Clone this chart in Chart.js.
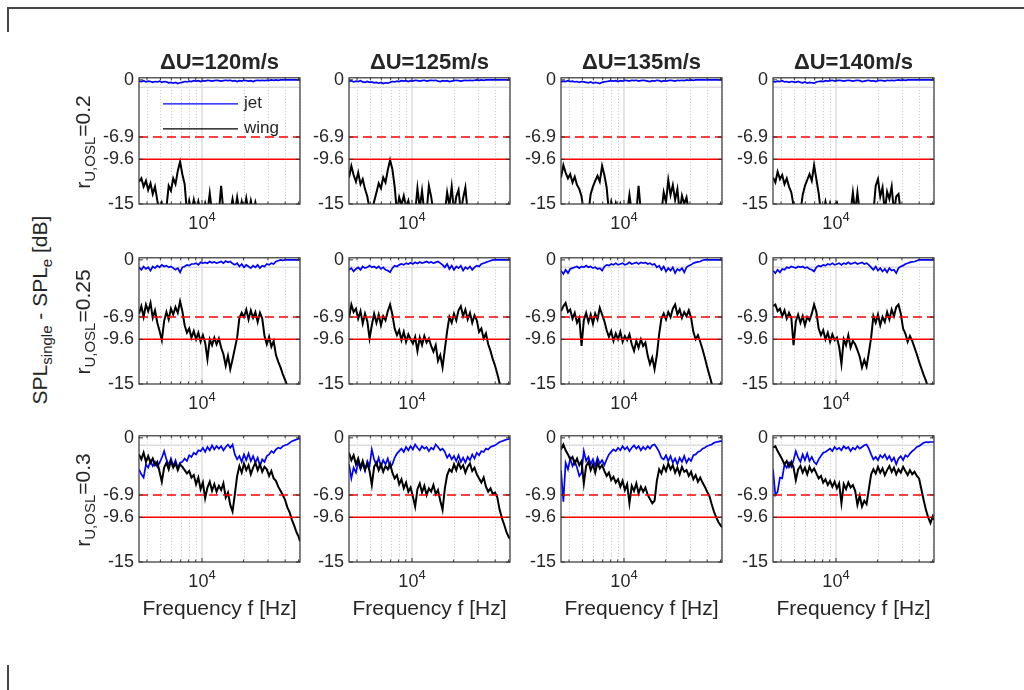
<!DOCTYPE html>
<html>
<head>
<meta charset="utf-8">
<script src="https://cdn.jsdelivr.net/npm/chart.js"></script>
<style>
  body { margin: 0; background: #fff; }
  #fig { position: relative; width: 1024px; height: 690px; overflow: hidden;
         font-family: "Liberation Sans", Arial, Helvetica, sans-serif; color: #262626; }
  .frame { position: absolute; background: #454545; }
  .panel { position: absolute; }
  .title { position: absolute; font-weight: bold; font-size: 22px; white-space: nowrap;
           transform: translate(-50%, -50%); }
  .xlab { position: absolute; font-size: 21px; white-space: nowrap; transform: translate(-50%, -50%); }
  .ylab { position: absolute; font-size: 21px; white-space: nowrap;
          transform: translate(-50%, -50%) rotate(-90deg); }
  .ylab sub { font-size: 15px; vertical-align: -0.35em; line-height: 0; }
</style>
</head>
<body>
<div id="fig">
  <div class="frame" style="left:7px;top:7px;width:1017px;height:2px"></div>
  <div class="frame" style="left:7px;top:7px;width:2px;height:25px"></div>
  <div class="frame" style="left:7px;top:665px;width:2px;height:25px"></div>
</div>
<script>
// frequency grid [Hz], shared by every panel
const freq = [
  3500, 3640, 3780, 3930, 4080, 4240, 4400, 4570, 4750, 4930,
  5120, 5320, 5530, 5740, 5960, 6190, 6430, 6680, 6940, 7210,
  7490, 7780, 8080, 8390, 8720, 9060, 9410, 9770, 10150, 10540,
  10950, 11380, 11820, 12280, 12750, 13250, 13760, 14290, 14850, 15420,
  16020, 16640, 17290, 17960, 18650, 19380, 20130, 20910, 21720, 22560,
  23440, 24340, 25290, 26270, 27290, 28340, 29440, 30590, 31770, 33010,
  34290, 35610, 37000, 38430, 39920, 41470, 43080, 44750, 46490, 48290,
  50160, 51200
];

const speedDiffs = [120, 125, 135, 140];      // ΔU [m/s], one per column
const ratios = ['0.2', '0.25', '0.3'];         // r_U,OSL, one per row
const yTicks = [-15, -9.6, -6.9, 0];
const dashedLevel = -6.9;
const solidLevel = -9.6;
const refGridLevel = -0.9;
const minorFreqs = [4000, 5000, 6000, 7000, 8000, 9000, 20000, 30000, 40000, 50000];
const majorFreqs = [10000];
const seriesNames = ['jet', 'wing'];

// SPL_single - SPL_e [dB], r = 0.2
const jet_r020_u120 = [
  -0.15,-0.2,-0.1,-0.25,-0.15,-0.2,-0.3,-0.2,-0.25,-0.15,-0.3,-0.2,
  -0.25,-0.35,-0.3,-0.4,-0.3,-0.45,-0.35,-0.3,-0.2,-0.25,-0.15,-0.2,
  -0.1,-0.15,-0.1,-0.2,-0.1,-0.15,-0.05,-0.1,-0.15,-0.1,-0.05,-0.1,
  -0.15,-0.1,-0.05,-0.1,-0.05,-0.15,-0.1,-0.2,-0.1,-0.15,-0.05,-0.1,
  -0.15,-0.1,-0.2,-0.1,-0.05,-0.1,-0.05,-0.1,-0.05,-0.05,0,-0.05,
  0,-0.05,0,0,0,0,0,0,0,0,0,0
];
const jet_r020_u125 = [
  -0.2,-0.1,-0.25,-0.15,-0.2,-0.1,-0.25,-0.3,-0.2,-0.3,-0.25,-0.35,
  -0.3,-0.4,-0.3,-0.45,-0.35,-0.4,-0.3,-0.2,-0.25,-0.15,-0.2,-0.1,
  -0.15,-0.1,-0.2,-0.1,-0.15,-0.05,-0.1,-0.15,-0.1,-0.05,-0.15,-0.1,
  -0.05,-0.1,-0.05,-0.15,-0.2,-0.1,-0.15,-0.1,-0.2,-0.15,-0.1,-0.05,
  -0.1,-0.15,-0.1,-0.05,-0.1,-0.05,-0.1,-0.05,0,-0.05,0,-0.05,
  0,0,0,0,0,0,0,0,0,0,0,0
];
const jet_r020_u135 = [
  -0.25,-0.15,-0.2,-0.1,-0.2,-0.15,-0.25,-0.2,-0.3,-0.2,-0.25,-0.3,
  -0.35,-0.25,-0.4,-0.3,-0.35,-0.45,-0.3,-0.25,-0.2,-0.15,-0.1,-0.15,
  -0.1,-0.2,-0.1,-0.15,-0.05,-0.1,-0.15,-0.05,-0.1,-0.05,-0.15,-0.1,
  -0.05,-0.1,-0.15,-0.2,-0.1,-0.15,-0.05,-0.1,-0.2,-0.1,-0.15,-0.1,
  -0.05,-0.1,-0.15,-0.05,-0.1,-0.05,-0.1,0,-0.05,0,-0.05,0,
  0,0,0,0,0,0,0,0,0,0,0,0
];
const jet_r020_u140 = [
  -0.2,-0.25,-0.15,-0.2,-0.1,-0.25,-0.2,-0.3,-0.2,-0.25,-0.3,-0.2,
  -0.3,-0.35,-0.25,-0.4,-0.3,-0.35,-0.4,-0.25,-0.2,-0.15,-0.2,-0.1,
  -0.15,-0.1,-0.05,-0.15,-0.1,-0.05,-0.1,-0.15,-0.1,-0.05,-0.1,-0.15,
  -0.1,-0.05,-0.1,-0.2,-0.15,-0.1,-0.05,-0.15,-0.1,-0.2,-0.1,-0.05,
  -0.1,-0.15,-0.05,-0.1,-0.05,-0.1,-0.05,0,-0.05,0,-0.05,0,
  0,0,0,0,0,0,0,0,0,0,0,0
];
const wing_r020_u120 = [
  -12.3,-11.9,-12.9,-12.2,-13.3,-12.5,-13.8,-12.9,-14.6,-16,-14.9,-16,
  -15.4,-12.8,-13.4,-11.9,-12.6,-11.0,-9.9,-11.4,-12.6,-16,-14.6,-16,
  -14.5,-16,-14.7,-16,-16,-14.9,-16,-13.7,-16,-16,-15.2,-16,
  -12.8,-16,-16,-16,-16,-14.4,-16,-14.2,-16,-14.7,-16,-14.3,
  -16,-14.6,-16,-14.8,-16,-16,-16,-16,-16,-16,-16,-16,
  -16,-16,-16,-16,-16,-16,-16,-16,-16,-16,-16,-16
];
const wing_r020_u125 = [
  -11.8,-10.4,-11.5,-12.3,-11.2,-12.6,-12.0,-13.2,-14.1,-15.6,-16,-14.7,
  -13.6,-12.5,-13.1,-11.8,-12.4,-10.9,-9.7,-10.8,-12.9,-16,-14.2,-15.1,
  -14.0,-15.4,-14.6,-16,-16,-16,-13.1,-15.5,-13.4,-16,-16,-12.8,
  -14.1,-16,-16,-16,-16,-16,-16,-13.6,-15.2,-12.9,-16,-14.1,
  -13.3,-16,-14.3,-13.0,-16,-16,-16,-16,-16,-16,-16,-16,
  -16,-16,-16,-16,-16,-16,-16,-16,-16,-16,-16,-16
];
const wing_r020_u135 = [
  -11.8,-10.3,-11.2,-11.9,-11.4,-12.4,-11.7,-12.7,-13.2,-14.1,-16,-15.3,
  -16,-13.8,-12.9,-12.2,-11.6,-12.3,-10.4,-11.5,-13.0,-16,-14.7,-16,
  -14.9,-16,-15.0,-16,-16,-16,-13.9,-16,-16,-16,-12.8,-16,
  -16,-16,-16,-16,-16,-16,-16,-16,-16,-13.6,-14.8,-12.1,
  -13.9,-12.7,-14.5,-13.2,-16,-14.0,-15.0,-14.2,-16,-16,-16,-16,
  -16,-16,-16,-16,-16,-16,-16,-16,-16,-16,-16,-16
];
const wing_r020_u140 = [
  -11.8,-12.4,-11.1,-12.0,-11.5,-12.6,-11.9,-12.9,-13.6,-15.2,-16,-15.5,
  -16,-13.9,-12.8,-12.1,-11.4,-12.2,-10.3,-12.0,-13.7,-16,-16,-14.7,
  -16,-14.9,-16,-15.1,-14.8,-16,-16,-16,-16,-16,-16,-13.6,
  -16,-13.6,-16,-16,-16,-16,-16,-16,-16,-12.8,-12.0,-14.1,
  -13.0,-16,-13.5,-14.4,-12.9,-16,-14.1,-13.8,-16,-16,-16,-16,
  -16,-16,-16,-16,-16,-16,-16,-16,-16,-16,-16,-16
];

// r = 0.25
const jet_r025_u120 = [
  -0.9,-1.2,-0.8,-1.1,-0.9,-1.3,-0.8,-1.0,-0.7,-0.9,-0.6,-0.8,
  -0.7,-0.9,-0.8,-1.0,-1.2,-1.0,-1.5,-0.9,-0.8,-0.6,-0.7,-0.5,
  -0.5,-0.4,-0.6,-0.3,-0.4,-0.3,-0.4,-0.2,-0.35,-0.25,-0.4,-0.3,
  -0.2,-0.4,-0.15,-0.3,-0.2,-0.45,-0.6,-0.4,-0.8,-0.5,-0.9,-0.6,
  -0.8,-1.0,-0.7,-0.9,-0.6,-1.0,-0.7,-0.8,-0.5,-0.6,-0.4,-0.5,
  -0.2,-0.1,0,-0.05,0,0,0,0,0,0,0,0
];
const jet_r025_u125 = [
  -1.2,-1.0,-1.4,-1.1,-0.9,-1.2,-0.8,-1.0,-0.9,-0.7,-0.9,-0.8,
  -1.0,-0.8,-1.1,-0.9,-1.2,-1.3,-1.5,-1.0,-0.7,-0.8,-0.6,-0.5,
  -0.6,-0.4,-0.5,-0.35,-0.5,-0.3,-0.45,-0.25,-0.4,-0.3,-0.2,-0.35,
  -0.25,-0.4,-0.3,-0.2,-0.4,-0.6,-0.9,-0.5,-1.1,-0.7,-1.2,-0.8,
  -1.0,-0.7,-1.3,-0.9,-1.1,-0.8,-1.2,-0.9,-0.7,-0.8,-0.5,-0.4,
  -0.3,-0.2,-0.1,0,0,0,0,0,0,0,0,0
];
const jet_r025_u135 = [
  -1.3,-1.7,-1.2,-1.6,-1.1,-1.0,-0.9,-0.8,-1.0,-0.8,-0.9,-0.7,
  -0.9,-0.8,-1.0,-0.9,-1.1,-1.0,-1.3,-0.8,-0.6,-0.7,-0.5,-0.6,
  -0.4,-0.6,-0.5,-0.4,-0.6,-0.5,-0.3,-0.5,-0.4,-0.3,-0.5,-0.3,
  -0.4,-0.3,-0.5,-0.4,-0.6,-0.5,-0.9,-0.7,-1.2,-0.8,-1.4,-1.0,
  -1.3,-0.9,-1.6,-1.1,-1.3,-1.0,-1.5,-0.9,-0.7,-0.6,-0.4,-0.3,
  -0.25,-0.2,-0.05,0,0,0,0,0,0,0,0,0
];
const jet_r025_u140 = [
  -1.3,-1.6,-1.2,-1.5,-1.1,-1.2,-0.9,-1.0,-0.8,-0.9,-1.0,-0.8,
  -0.9,-0.8,-1.0,-0.9,-1.1,-1.2,-1.4,-0.9,-0.7,-0.8,-0.6,-0.7,
  -0.5,-0.6,-0.4,-0.6,-0.5,-0.4,-0.6,-0.4,-0.5,-0.3,-0.5,-0.4,
  -0.3,-0.5,-0.4,-0.3,-0.5,-0.4,-0.6,-0.9,-1.2,-0.8,-1.3,-1.0,
  -1.4,-1.1,-1.5,-1.0,-1.3,-1.2,-1.6,-1.0,-0.8,-0.7,-0.5,-0.4,
  -0.3,-0.25,-0.2,-0.1,0,0,0,0,0,0,0,0
];
const wing_r025_u120 = [
  -6.5,-5.6,-6.9,-5.4,-6.2,-5.2,-7.0,-6.1,-7.6,-8.6,-9.7,-7.4,
  -6.3,-7.2,-5.9,-6.6,-5.7,-6.4,-5.0,-6.2,-7.9,-8.8,-8.3,-9.4,
  -8.6,-9.6,-8.8,-9.9,-9.1,-10.0,-12.0,-9.6,-10.3,-9.4,-10.2,-9.5,
  -10.6,-11.4,-12.8,-11.6,-13.2,-12.0,-10.7,-9.4,-7.0,-6.4,-6.9,-6.0,
  -7.2,-6.1,-7.0,-6.3,-7.5,-6.4,-7.1,-9.2,-10.2,-9.3,-10.5,-9.8,
  -11.5,-12.3,-13.0,-13.8,-14.5,-15.2,-16.5,-17,-17,-17,-17,-17
];
const wing_r025_u125 = [
  -7.0,-5.4,-6.3,-5.9,-7.1,-6.2,-7.7,-6.5,-7.4,-9.5,-7.9,-6.5,
  -7.6,-6.6,-7.9,-6.8,-7.3,-6.2,-5.4,-6.6,-8.3,-9.1,-8.5,-9.7,
  -8.7,-9.9,-9.0,-9.6,-10.1,-9.3,-11.0,-9.4,-10.3,-9.2,-10.0,-9.5,
  -10.4,-11.1,-10.3,-12.2,-11.5,-13.0,-10.8,-8.6,-6.9,-7.6,-6.5,-7.3,
  -6.1,-5.6,-6.8,-6.0,-7.2,-6.4,-7.6,-6.7,-7.3,-8.7,-8.3,-9.5,
  -8.9,-10.2,-11.0,-12.0,-12.8,-13.8,-14.9,-16,-17,-17,-17,-17
];
const wing_r025_u135 = [
  -6.2,-5.6,-5.2,-6.3,-6.0,-7.1,-6.4,-7.6,-7.0,-10.4,-7.3,-6.4,
  -7.5,-6.6,-7.7,-6.5,-7.2,-5.8,-6.6,-7.4,-8.5,-9.3,-8.6,-9.8,
  -8.9,-9.6,-8.7,-9.9,-9.2,-9.7,-9.0,-10.2,-11.0,-9.8,-10.6,-9.6,
  -10.4,-10.0,-11.6,-12.6,-11.8,-13.2,-11.5,-9.0,-7.1,-6.5,-7.2,-6.3,
  -6.9,-5.9,-5.4,-6.6,-6.0,-7.0,-6.3,-6.8,-6.1,-7.0,-8.7,-9.6,
  -9.1,-9.9,-10.8,-11.8,-12.9,-13.9,-14.9,-16,-17,-17,-17,-17
];
const wing_r025_u140 = [
  -5.6,-5.4,-6.2,-5.9,-6.8,-6.1,-7.1,-6.4,-7.0,-10.3,-7.4,-6.6,
  -7.6,-6.8,-7.9,-6.9,-7.3,-6.5,-5.4,-6.3,-8.3,-9.1,-8.5,-9.6,
  -8.8,-9.9,-9.0,-9.7,-9.4,-10.5,-12.6,-9.6,-10.3,-9.1,-10.6,-9.8,
  -10.2,-10.9,-11.7,-13.0,-12.1,-12.9,-11.2,-9.4,-6.8,-7.6,-6.6,-7.9,
  -6.9,-7.5,-6.3,-7.2,-6.0,-6.8,-5.7,-5.4,-6.5,-8.3,-8.9,-9.9,
  -9.2,-9.8,-10.6,-11.4,-12.3,-13.1,-13.9,-14.6,-15.5,-16.5,-17,-17
];

// r = 0.3
const jet_r030_u120 = [
  -3.8,-4.4,-4.8,-3.2,-3.6,-2.8,-3.4,-2.9,-3.5,-3.0,-2.4,-1.6,
  -2.6,-3.3,-2.5,-3.4,-2.7,-3.6,-3.0,-2.9,-2.5,-2.8,-2.1,-2.3,
  -1.8,-2.0,-1.5,-1.6,-1.2,-1.7,-1.1,-1.5,-0.9,-1.4,-1.0,-1.3,
  -1.0,-1.5,-1.1,-0.8,-1.2,-0.8,-2.0,-2.6,-2.2,-2.9,-2.0,-2.7,
  -1.9,-2.8,-2.2,-3.0,-2.4,-3.4,-2.6,-2.9,-2.2,-2.0,-1.6,-1.8,
  -1.4,-1.2,-1.3,-1.0,-0.9,-0.8,-0.6,-0.4,-0.3,-0.2,-0.1,-0.1
];
const jet_r030_u125 = [
  -3.2,-4.9,-3.6,-4.2,-2.9,-3.8,-3.1,-4.0,-2.8,-3.4,-1.4,-2.6,
  -3.3,-2.4,-3.5,-2.7,-3.2,-2.5,-3.6,-3.2,-2.4,-1.9,-1.6,-1.3,
  -1.7,-1.1,-1.5,-1.0,-1.4,-0.8,-1.2,-1.5,-1.0,-1.3,-1.1,-1.6,
  -1.2,-1.4,-0.8,-1.1,-1.5,-1.3,-1.7,-2.4,-2.0,-2.6,-2.2,-2.8,
  -2.1,-2.9,-2.4,-3.0,-2.3,-2.7,-2.0,-2.5,-1.8,-2.1,-1.6,-1.7,
  -1.3,-1.4,-1.1,-1.0,-0.9,-0.7,-0.5,-0.4,-0.3,-0.2,-0.15,-0.1
];
const jet_r030_u135 = [
  -3.9,-7.7,-3.0,-3.8,-2.5,-3.4,-2.8,-3.6,-4.6,-4.2,-1.6,-2.8,
  -2.3,-3.2,-2.6,-3.4,-2.4,-3.1,-2.7,-3.3,-2.6,-2.0,-1.7,-1.4,
  -1.6,-1.2,-1.5,-1.0,-1.4,-1.1,-1.6,-1.2,-0.9,-1.3,-1.0,-1.5,
  -1.1,-1.4,-1.0,-1.3,-0.9,-0.8,-1.2,-1.7,-2.4,-2.6,-2.1,-2.8,
  -2.2,-3.0,-2.5,-3.2,-2.4,-2.9,-2.2,-3.0,-2.5,-2.8,-2.1,-2.0,
  -1.7,-1.6,-1.3,-1.2,-1.0,-0.9,-0.8,-0.6,-0.5,-0.45,-0.4,-0.4
];
const jet_r030_u140 = [
  -3.8,-6.9,-6.5,-4.8,-4.9,-3.2,-3.6,-3.0,-3.5,-2.7,-1.6,-2.4,
  -2.9,-2.0,-2.7,-1.9,-2.8,-2.3,-2.9,-3.2,-2.6,-2.2,-1.8,-1.7,
  -1.5,-1.3,-1.6,-1.1,-1.4,-1.2,-1.5,-1.0,-1.3,-1.1,-1.6,-1.2,
  -1.4,-1.0,-1.3,-1.1,-0.9,-0.8,-1.3,-2.0,-2.6,-2.3,-2.7,-2.1,
  -2.4,-2.0,-2.6,-2.2,-2.8,-2.4,-3.2,-2.5,-2.2,-2.7,-2.1,-2.3,
  -1.9,-1.6,-1.4,-1.1,-1.0,-0.8,-0.6,-0.5,-0.55,-0.5,-0.5,-0.5
];
const wing_r030_u120 = [
  -2.0,-2.6,-1.8,-2.9,-2.2,-3.0,-2.5,-3.3,-2.9,-4.1,-5.3,-3.6,
  -3.0,-3.8,-2.8,-3.6,-3.1,-3.9,-3.2,-3.5,-3.9,-4.3,-4.0,-4.8,
  -4.5,-5.6,-4.8,-6.2,-5.4,-7.3,-6.0,-5.3,-6.4,-5.6,-6.5,-5.8,
  -6.3,-5.5,-7.2,-6.6,-8.1,-8.9,-6.8,-4.6,-3.4,-4.2,-3.1,-3.9,
  -3.3,-4.4,-3.6,-3.0,-3.9,-3.2,-4.1,-3.5,-3.8,-4.6,-4.0,-4.9,
  -5.2,-5.9,-6.4,-6.9,-7.5,-8.4,-9.0,-9.9,-10.6,-11.4,-12.0,-12.5
];
const wing_r030_u125 = [
  -1.8,-2.7,-2.1,-3.2,-2.5,-3.6,-2.8,-3.8,-3.1,-4.0,-5.7,-3.5,
  -3.0,-3.9,-3.2,-4.1,-3.4,-3.8,-3.1,-4.2,-4.9,-4.5,-5.6,-5.0,
  -6.1,-5.4,-6.5,-6.0,-7.1,-8.3,-6.2,-5.5,-6.6,-5.8,-6.9,-6.1,
  -6.5,-5.7,-6.8,-6.3,-7.6,-8.7,-6.1,-4.5,-3.8,-4.1,-3.2,-3.9,
  -3.0,-3.7,-3.3,-4.2,-3.5,-3.1,-4.0,-3.6,-4.4,-4.9,-5.4,-4.8,
  -5.9,-6.5,-6.1,-6.8,-6.6,-7.2,-8.7,-9.7,-10.5,-11.4,-12.0,-12.2
];
const wing_r030_u135 = [
  -1.4,-0.8,-1.5,-2.0,-2.6,-2.3,-3.1,-2.5,-3.3,-2.8,-5.5,-3.4,
  -2.9,-3.9,-3.2,-4.2,-3.0,-3.7,-3.3,-4.0,-4.6,-4.2,-5.1,-4.7,
  -5.4,-5.0,-5.9,-5.2,-6.3,-5.6,-7.9,-5.8,-6.4,-5.5,-6.7,-5.9,
  -6.5,-6.0,-6.9,-7.4,-7.9,-7.6,-5.2,-3.8,-4.3,-3.4,-4.0,-3.1,
  -3.8,-3.3,-4.2,-3.6,-4.4,-3.5,-4.1,-3.9,-4.6,-4.1,-5.0,-4.5,
  -5.3,-4.8,-5.4,-5.9,-6.5,-7.0,-8.0,-8.9,-9.6,-10.2,-10.6,-10.8
];
const wing_r030_u140 = [
  -1.2,-1.0,-1.6,-2.1,-2.6,-3.2,-2.8,-3.5,-2.9,-3.6,-5.1,-3.8,
  -3.4,-4.2,-3.6,-4.4,-3.5,-4.1,-3.7,-4.3,-4.9,-4.6,-5.4,-5.0,
  -5.7,-5.2,-5.9,-5.3,-6.1,-5.5,-7.9,-5.6,-6.2,-5.4,-6.0,-5.7,
  -6.4,-8.1,-7.0,-8.3,-7.6,-8.0,-6.2,-4.4,-3.8,-4.3,-3.5,-4.2,
  -3.7,-4.5,-3.9,-3.4,-4.1,-3.6,-4.4,-3.8,-4.2,-3.5,-4.0,-4.5,
  -3.9,-4.4,-4.1,-4.6,-4.9,-6.2,-7.5,-8.7,-9.6,-10.3,-9.5,-9.9
];

const jetSeries = [
  [jet_r020_u120, jet_r020_u125, jet_r020_u135, jet_r020_u140],
  [jet_r025_u120, jet_r025_u125, jet_r025_u135, jet_r025_u140],
  [jet_r030_u120, jet_r030_u125, jet_r030_u135, jet_r030_u140]
];
const wingSeries = [
  [wing_r020_u120, wing_r020_u125, wing_r020_u135, wing_r020_u140],
  [wing_r025_u120, wing_r025_u125, wing_r025_u135, wing_r025_u140],
  [wing_r030_u120, wing_r030_u125, wing_r030_u135, wing_r030_u140]
];

// subplot grid
const colLeft = [139, 349, 561, 773];
const rowTop = [76, 256, 434];
const plotW = 161, plotH = 128;
const padL = 60, padT = 14, padR = 10, padB = 45;

const fontFamily = '"Liberation Sans", Arial, Helvetica, sans-serif';
const ink = '#262626';
const lineColors = ['#0000ff', '#000000'];

function strokeLine(ctx, x1, y1, x2, y2) {
  ctx.beginPath();
  ctx.moveTo(x1, y1);
  ctx.lineTo(x2, y2);
  ctx.stroke();
}

// grid, box, inward ticks, the 10^4 label and the in-axes legend
const panelDecor = {
  id: 'panelDecor',
  beforeDatasetsDraw(chart) {
    const { ctx, chartArea: a } = chart;
    const x = chart.scales.x, y = chart.scales.y;
    ctx.save();
    ctx.lineWidth = 1;
    ctx.strokeStyle = '#c6c6c6';
    ctx.setLineDash([1, 2]);
    minorFreqs.forEach(f => {
      const px = Math.round(x.getPixelForValue(f)) + 0.5;
      strokeLine(ctx, px, a.top, px, a.bottom);
    });
    ctx.setLineDash([]);
    ctx.strokeStyle = '#dcdcdc';
    ctx.lineWidth = 1.5;
    majorFreqs.forEach(f => {
      const px = x.getPixelForValue(f);
      strokeLine(ctx, px, a.top, px, a.bottom);
    });
    const py = y.getPixelForValue(refGridLevel);
    strokeLine(ctx, a.left, py, a.right, py);
    ctx.restore();
  },
  afterDraw(chart, args, opts) {
    const { ctx, chartArea: a } = chart;
    const x = chart.scales.x, y = chart.scales.y;
    ctx.save();
    ctx.strokeStyle = '#333';
    ctx.lineWidth = 1.2;
    ctx.strokeRect(a.left, a.top, a.width, a.height);
    ctx.lineWidth = 1;
    yTicks.forEach(v => {
      const py = y.getPixelForValue(v);
      strokeLine(ctx, a.left, py, a.left + 4, py);
      strokeLine(ctx, a.right, py, a.right - 4, py);
    });
    minorFreqs.concat(majorFreqs).forEach(f => {
      const px = x.getPixelForValue(f);
      const len = majorFreqs.includes(f) ? 4 : 2.5;
      strokeLine(ctx, px, a.bottom, px, a.bottom - len);
      strokeLine(ctx, px, a.top, px, a.top + len);
    });

    // decade label 10^4
    const px = x.getPixelForValue(majorFreqs[0]);
    ctx.fillStyle = ink;
    ctx.textBaseline = 'alphabetic';
    ctx.textAlign = 'left';
    ctx.font = '18px ' + fontFamily;
    const w1 = ctx.measureText('10').width;
    ctx.font = '13px ' + fontFamily;
    const w2 = ctx.measureText('4').width;
    const x0 = px - (w1 + w2) / 2;
    ctx.font = '18px ' + fontFamily;
    ctx.fillText('10', x0, a.bottom + 25);
    ctx.font = '13px ' + fontFamily;
    ctx.fillText('4', x0 + w1, a.bottom + 17);

    if (opts.legend) {
      const lx = a.left + 24, ly = a.top + 26;
      ctx.font = '17px ' + fontFamily;
      ctx.textBaseline = 'middle';
      seriesNames.forEach((name, k) => {
        const yy = ly + k * 25;
        ctx.strokeStyle = lineColors[k];
        ctx.lineWidth = 1.3;
        strokeLine(ctx, lx, yy, lx + 75, yy);
        ctx.fillStyle = ink;
        ctx.fillText(name, lx + 81, yy);
      });
    }
    ctx.restore();
  }
};

const fig = document.getElementById('fig');

function addText(cls, html, left, top) {
  const d = document.createElement('div');
  d.className = cls;
  d.innerHTML = html;
  d.style.left = left + 'px';
  d.style.top = top + 'px';
  fig.appendChild(d);
}

const fMin = freq[0], fMax = freq[freq.length - 1];

ratios.forEach((r, ri) => {
  speedDiffs.forEach((du, ci) => {
    const wrap = document.createElement('div');
    wrap.className = 'panel';
    wrap.style.left = (colLeft[ci] - padL) + 'px';
    wrap.style.top = (rowTop[ri] - padT) + 'px';
    const canvas = document.createElement('canvas');
    canvas.width = padL + plotW + padR;
    canvas.height = padT + plotH + padB;
    wrap.appendChild(canvas);
    fig.appendChild(wrap);

    const jet = jetSeries[ri][ci], wing = wingSeries[ri][ci];
    new Chart(canvas, {
      type: 'line',
      data: {
        datasets: [
          { label: 'dashed', data: [{ x: fMin, y: dashedLevel }, { x: fMax, y: dashedLevel }],
            borderColor: '#ff0000', borderWidth: 1.6, borderDash: [9, 5], order: 0 },
          { label: 'solid', data: [{ x: fMin, y: solidLevel }, { x: fMax, y: solidLevel }],
            borderColor: '#ff0000', borderWidth: 1.6, order: 0 },
          { label: seriesNames[1], data: freq.map((f, k) => ({ x: f, y: wing[k] })),
            borderColor: lineColors[1], borderWidth: 2, order: 1, clip: 0 },
          { label: seriesNames[0], data: freq.map((f, k) => ({ x: f, y: jet[k] })),
            borderColor: lineColors[0], borderWidth: 1.7, order: 2, clip: 0 }
        ]
      },
      options: {
        responsive: false,
        animation: false,
        devicePixelRatio: 1,
        layout: { padding: { left: 0, top: padT, right: padR, bottom: 5 } },
        elements: { point: { radius: 0 }, line: { tension: 0 } },
        plugins: {
          legend: { display: false },
          tooltip: { enabled: false },
          panelDecor: { legend: ri === 0 && ci === 0 }
        },
        scales: {
          x: {
            type: 'logarithmic', min: fMin, max: fMax,
            grid: { display: false, drawTicks: false },
            border: { display: false },
            ticks: { display: false },
            afterFit: s => { s.height = padB - 5; }
          },
          y: {
            type: 'linear', min: -15, max: 0.25,
            grid: { display: false, drawTicks: false },
            border: { display: false },
            afterBuildTicks: s => { s.ticks = yTicks.map(v => ({ value: v })); },
            ticks: { color: ink, autoSkip: false, padding: 5,
                     font: { family: fontFamily, size: 18 },
                     callback: v => String(v) },
            afterFit: s => { s.width = padL; }
          }
        }
      },
      plugins: [panelDecor]
    });
  });
});

// column titles, row labels, axis labels
speedDiffs.forEach((du, ci) => {
  addText('title', '\u0394U=' + du + 'm/s', colLeft[ci] + plotW / 2, 62);
  addText('xlab', 'Frequency f [Hz]', colLeft[ci] + plotW / 2, rowTop[2] + plotH + 46);
});
ratios.forEach((r, ri) => {
  addText('ylab', 'r<sub>U,OSL</sub>=' + r, 83, rowTop[ri] + plotH / 2 + 2);
});
addText('ylab', 'SPL<sub>single</sub> - SPL<sub>e</sub> [dB]', 40, 310);
</script>
</body>
</html>
